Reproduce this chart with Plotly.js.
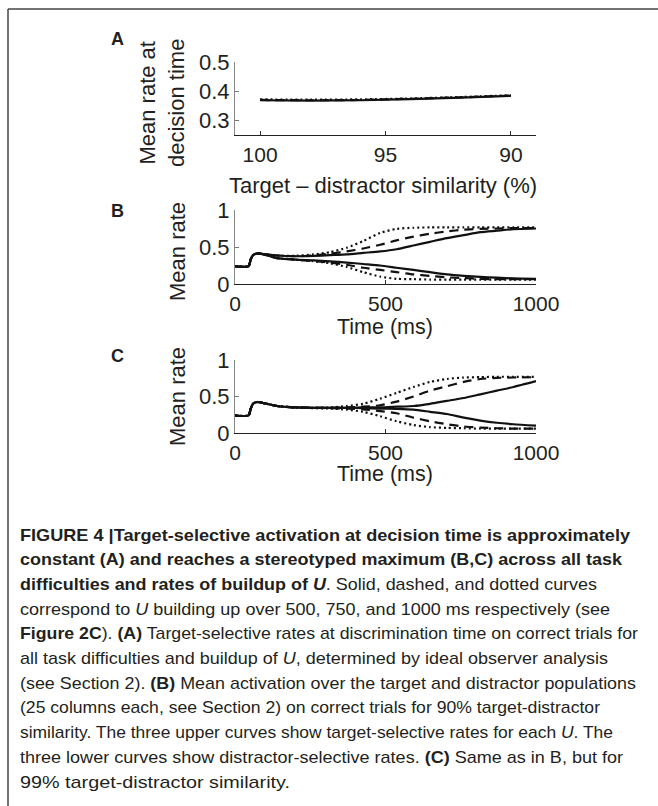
<!DOCTYPE html>
<html>
<head>
<meta charset="utf-8">
<script src="https://cdn.plot.ly/plotly-3.0.1.min.js"></script>
<style>html,body{margin:0;padding:0;background:#fff;}#chart{width:658px;height:806px;}</style>
</head>
<body>
<div id="chart"></div>
<script>
// ---------- data ----------
// Panel A: target-distractor similarity (%) vs mean rate at decision time
const similarity = [100, 98, 96, 94, 92, 90];
const A_solid  = [0.369, 0.368, 0.369, 0.373, 0.378, 0.384];
const A_dashed = [0.370, 0.369, 0.370, 0.374, 0.379, 0.385];
const A_dotted = [0.372, 0.371, 0.372, 0.375, 0.380, 0.386];

// Panels B, C: time (ms)
const time = [0, 45, 52, 60, 75, 95, 140, 200, 260, 316, 371, 426, 482, 537, 593, 648, 704, 760, 815, 870, 925, 1000];

// Panel B (90% similarity)
const B_up_solid  = [0.24,0.24,0.33,0.39,0.415,0.405,0.385,0.375,0.38,0.39,0.40,0.42,0.44,0.47,0.52,0.57,0.62,0.66,0.70,0.72,0.74,0.75];
const B_up_dashed = [0.24,0.24,0.33,0.39,0.415,0.405,0.385,0.375,0.385,0.41,0.44,0.48,0.53,0.59,0.64,0.68,0.71,0.735,0.745,0.75,0.755,0.755];
const B_up_dotted = [0.24,0.24,0.33,0.39,0.415,0.405,0.385,0.38,0.40,0.43,0.49,0.58,0.69,0.745,0.76,0.765,0.765,0.765,0.765,0.765,0.765,0.765];
const B_lo_solid  = [0.24,0.24,0.33,0.39,0.415,0.40,0.35,0.33,0.32,0.305,0.29,0.27,0.25,0.22,0.19,0.16,0.13,0.11,0.095,0.085,0.075,0.07];
const B_lo_dashed = [0.24,0.24,0.33,0.39,0.415,0.40,0.35,0.33,0.31,0.29,0.26,0.22,0.19,0.16,0.13,0.11,0.09,0.08,0.07,0.065,0.065,0.065];
const B_lo_dotted = [0.24,0.24,0.33,0.39,0.415,0.40,0.35,0.33,0.31,0.28,0.23,0.16,0.10,0.07,0.065,0.06,0.06,0.06,0.06,0.06,0.06,0.06];

// Panel C (99% similarity)
const C_up_solid  = [0.24,0.24,0.33,0.40,0.425,0.41,0.37,0.35,0.345,0.345,0.345,0.35,0.35,0.36,0.37,0.40,0.44,0.48,0.53,0.58,0.63,0.71];
const C_up_dashed = [0.24,0.24,0.33,0.40,0.425,0.41,0.37,0.35,0.345,0.345,0.35,0.36,0.38,0.43,0.50,0.58,0.64,0.70,0.74,0.755,0.76,0.765];
const C_up_dotted = [0.24,0.24,0.33,0.40,0.425,0.41,0.37,0.35,0.345,0.35,0.37,0.40,0.47,0.55,0.63,0.70,0.74,0.76,0.765,0.77,0.77,0.77];
const C_lo_solid  = [0.24,0.24,0.33,0.40,0.425,0.41,0.37,0.35,0.345,0.345,0.345,0.34,0.335,0.33,0.32,0.29,0.26,0.21,0.17,0.14,0.12,0.10];
const C_lo_dashed = [0.24,0.24,0.33,0.40,0.425,0.41,0.37,0.35,0.345,0.34,0.335,0.325,0.30,0.27,0.21,0.16,0.12,0.09,0.075,0.065,0.06,0.06];
const C_lo_dotted = [0.24,0.24,0.33,0.40,0.425,0.41,0.37,0.35,0.34,0.335,0.32,0.29,0.23,0.16,0.11,0.08,0.07,0.065,0.06,0.06,0.06,0.06];

// tick labels
const A_xticks = [100, 95, 90];
const A_yticks = [0.3, 0.4, 0.5];
const A_yticktext = ['0.3', '0.4', '0.5'];
const T_xticks = [0, 500, 1000];
const T_yticks = [0, 0.5, 1];
const T_yticktext = ['0', '0.5', '1'];

// caption lines
const captionLines = [
  '<b>FIGURE 4 |Target-selective activation at decision time is approximately</b>',
  '<b>constant (A) and reaches a stereotyped maximum (B,C) across all task</b>',
  '<b>difficulties and rates of buildup of <i>U</i></b>. Solid, dashed, and dotted curves',
  'correspond to <i>U</i> building up over 500, 750, and 1000 ms respectively (see',
  '<b>Figure 2C</b>). <b>(A)</b> Target-selective rates at discrimination time on correct trials for',
  'all task difficulties and buildup of <i>U</i>, determined by ideal observer analysis',
  '(see Section 2). <b>(B)</b> Mean activation over the target and distractor populations',
  '(25 columns each, see Section 2) on correct trials for 90% target-distractor',
  'similarity. The three upper curves show target-selective rates for each <i>U</i>. The',
  'three lower curves show distractor-selective rates. <b>(C)</b> Same as in B, but for',
  '99% target-distractor similarity.'
];

// ---------- helpers ----------
const W = 658, H = 806;
const px = v => v / W;
const py = v => 1 - v / H;
const FONT = 'Liberation Sans, Arial, Helvetica, sans-serif';
const INK = '#231f20';

const styles = {
  solid: {color: '#111', width: 2.2, dash: 'solid'},
  dashed: {color: '#111', width: 2.2, dash: '9px,6px'},
  dotted: {color: '#111', width: 2.2, dash: '2px,3px'}
};
function tr(x, y, st, xa, ya) {
  return {x: x, y: y, type: 'scatter', mode: 'lines', xaxis: xa, yaxis: ya,
          line: Object.assign({shape: 'spline', smoothing: 0.6}, styles[st]), hoverinfo: 'skip'};
}

const data = [
  tr(similarity, A_solid, 'solid', 'x', 'y'),
  tr(similarity, A_dashed, 'dashed', 'x', 'y'),
  tr(similarity, A_dotted, 'dotted', 'x', 'y'),
  tr(time, B_up_dotted, 'dotted', 'x2', 'y2'),
  tr(time, B_up_dashed, 'dashed', 'x2', 'y2'),
  tr(time, B_up_solid, 'solid', 'x2', 'y2'),
  tr(time, B_lo_dotted, 'dotted', 'x2', 'y2'),
  tr(time, B_lo_dashed, 'dashed', 'x2', 'y2'),
  tr(time, B_lo_solid, 'solid', 'x2', 'y2'),
  tr(time, C_up_dotted, 'dotted', 'x3', 'y3'),
  tr(time, C_up_dashed, 'dashed', 'x3', 'y3'),
  tr(time, C_up_solid, 'solid', 'x3', 'y3'),
  tr(time, C_lo_dotted, 'dotted', 'x3', 'y3'),
  tr(time, C_lo_dashed, 'dashed', 'x3', 'y3'),
  tr(time, C_lo_solid, 'solid', 'x3', 'y3')
];

function xax(range, tickvals, anchor) {
  return {domain: [px(235), px(536)], range: range, tickvals: tickvals, ticks: 'inside', ticklen: 4,
          tickcolor: '#333', showline: true, linecolor: '#222', linewidth: 1.3, showgrid: false,
          zeroline: false, anchor: anchor, fixedrange: true, ticklabelstandoff: 0,
          tickfont: {family: FONT, size: 21, color: INK}};
}
function yax(domPx, range, tickvals, ticktext, anchor) {
  return {domain: [py(domPx[1]), py(domPx[0])], range: range, tickvals: tickvals, ticktext: ticktext,
          ticks: 'inside', ticklen: 4, tickcolor: '#777', showline: true, linecolor: '#888', linewidth: 1,
          showgrid: false, zeroline: false, anchor: anchor, fixedrange: true,
          tickfont: {family: FONT, size: 22, color: INK}};
}

const annotations = [];
function ann(text, x, y, opts) {
  annotations.push(Object.assign({text: text, x: px(x), y: py(y), xref: 'paper', yref: 'paper',
    showarrow: false, xanchor: 'center', yanchor: 'middle',
    font: {family: FONT, size: 22, color: INK}}, opts || {}));
}
// panel letters
ann('<b>A</b>', 117, 39, {font: {family: FONT, size: 18, color: INK}});
ann('<b>B</b>', 117, 211, {font: {family: FONT, size: 18, color: INK}});
ann('<b>C</b>', 117, 356, {font: {family: FONT, size: 18, color: INK}});
// axis titles
ann('Mean rate at<br>decision time', 162, 103, {textangle: -90});
ann('Mean rate', 177, 252, {textangle: -90});
ann('Mean rate', 177, 397, {textangle: -90});
ann('Target – distractor similarity (%)', 383, 185);
ann('Time (ms)', 385, 327, {font: {family: FONT, size: 21.5, color: INK}});
ann('Time (ms)', 385, 474, {font: {family: FONT, size: 21.5, color: INK}});
const firstCaption = annotations.length;
// caption
const capY = [535, 559.7, 584.4, 609.1, 633.8, 658.5, 683.2, 707.9, 732.6, 757.3, 782];
const capRight = [630, 622, 597, 610, 638, 608, 636, 600, 613, 623, 290];
const capLeft = 20;
captionLines.forEach((t, i) => ann(t, capLeft, capY[i], {xanchor: 'left', align: 'left',
  font: {family: FONT, size: 17, color: INK}}));

const layout = {
  width: W, height: H, margin: {l: 0, r: 0, t: 0, b: 0, pad: 0},
  paper_bgcolor: '#fff', plot_bgcolor: '#fff', showlegend: false,
  xaxis: xax([101, 89], A_xticks, 'y'),
  yaxis: yax([62, 135], [0.25, 0.5], A_yticks, A_yticktext, 'x'),
  xaxis2: xax([0, 1000], T_xticks, 'y2'),
  yaxis2: yax([210, 284], [0, 1], T_yticks, T_yticktext, 'x2'),
  xaxis3: xax([0, 1000], T_xticks, 'y3'),
  yaxis3: yax([360, 433], [0, 1], T_yticks, T_yticktext, 'x3'),
  annotations: annotations,
  shapes: [
    {type: 'line', xref: 'paper', yref: 'paper', x0: px(8), x1: 1, y0: py(9), y1: py(9), line: {color: '#444', width: 1.5}},
    {type: 'line', xref: 'paper', yref: 'paper', x0: px(8), x1: px(8), y0: py(9), y1: 0, line: {color: '#444', width: 1.5}}
  ]
};

Plotly.newPlot('chart', data, layout, {staticPlot: true, displayModeBar: false}).then(gd => {
  // the caption face is a condensed sans: compress each line to the width it has in the figure
  const root = gd.getBoundingClientRect();
  captionLines.forEach((t, i) => {
    const el = gd.querySelector('g.annotation[data-index="' + (firstCaption + i) + '"] text.annotation-text');
    if (!el) return;
    el.setAttribute('textLength', capRight[i] - capLeft);
    el.setAttribute('lengthAdjust', 'spacingAndGlyphs');
    const r = el.getBoundingClientRect();
    const dx = capLeft - (r.left - root.left);
    el.setAttribute('x', (parseFloat(el.getAttribute('x')) || 0) + dx);
  });
});
</script>
</body>
</html>
